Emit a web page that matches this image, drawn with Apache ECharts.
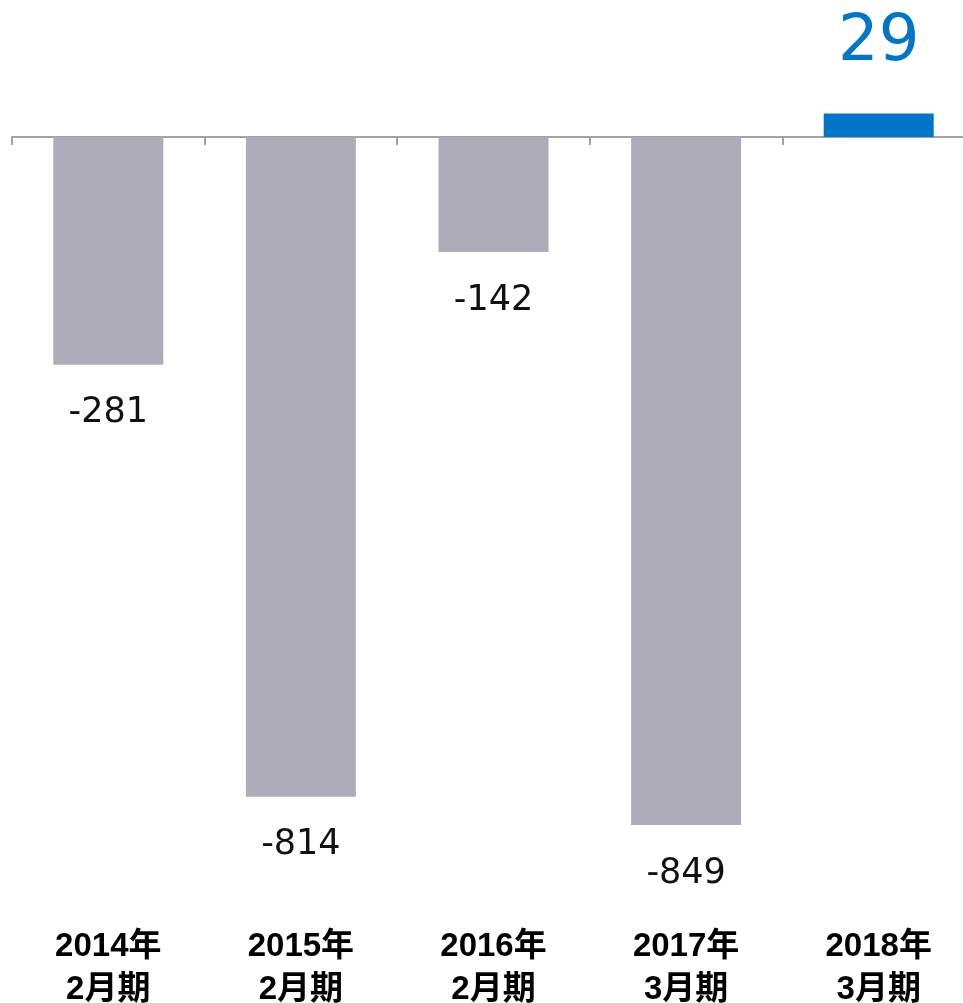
<!DOCTYPE html>
<html>
<head>
<meta charset="utf-8">
<script src="https://cdn.jsdelivr.net/npm/echarts@6/dist/echarts.min.js"></script>
<style>
html,body{margin:0;padding:0;overflow:hidden;background:#fff;}
#c{width:975px;height:1003px;}
</style>
</head>
<body>
<div id="c"></div>
<script>
const categories = ['2014年\n2月期','2015年\n2月期','2016年\n2月期','2017年\n3月期','2018年\n3月期'];
const values = [-281, -814, -142, -849, 29];
const gray = '#AEACB8';
const blue = '#0075C9';

const chart = echarts.init(document.getElementById('c'));
const data = values.map(v => {
  const pos = v >= 0;
  return {
    value: v,
    itemStyle: { color: pos ? blue : gray },
    label: pos ? {
      position: 'top', distance: 38, fontSize: 64, color: blue
    } : {
      position: 'bottom', distance: 31, fontSize: 35, color: '#111'
    }
  };
});
chart.setOption({
  animation: false,
  grid: { left: 12, right: 0, top: 56, bottom: 84, containLabel: false, outerBoundsMode: 'none' },
  xAxis: [{
    type: 'category',
    data: categories,
    axisLine: { onZero: true, lineStyle: { color: '#A3A3A3', width: 2 } },
    axisTick: { show: true, length: 8, lineStyle: { color: '#A3A3A3', width: 2 } },
    axisLabel: { show: false }
  }, {
    type: 'category',
    data: categories,
    position: 'bottom',
    axisLine: { show: false, onZero: false },
    axisTick: { show: false },
    axisLabel: {
      margin: 6, fontSize: 33, fontWeight: 'bold', color: '#000',
      lineHeight: 43, fontFamily: '"Liberation Sans", "Noto Sans CJK JP", sans-serif'
    }
  }],
  yAxis: {
    type: 'value', min: -965, max: 100, show: false, splitLine: { show: false }
  },
  series: [{
    type: 'bar',
    barWidth: 110,
    data: data,
    label: {
      show: true,
      fontFamily: '"DejaVu Sans", Verdana, sans-serif'
    }
  }]
});
</script>
</body>
</html>
